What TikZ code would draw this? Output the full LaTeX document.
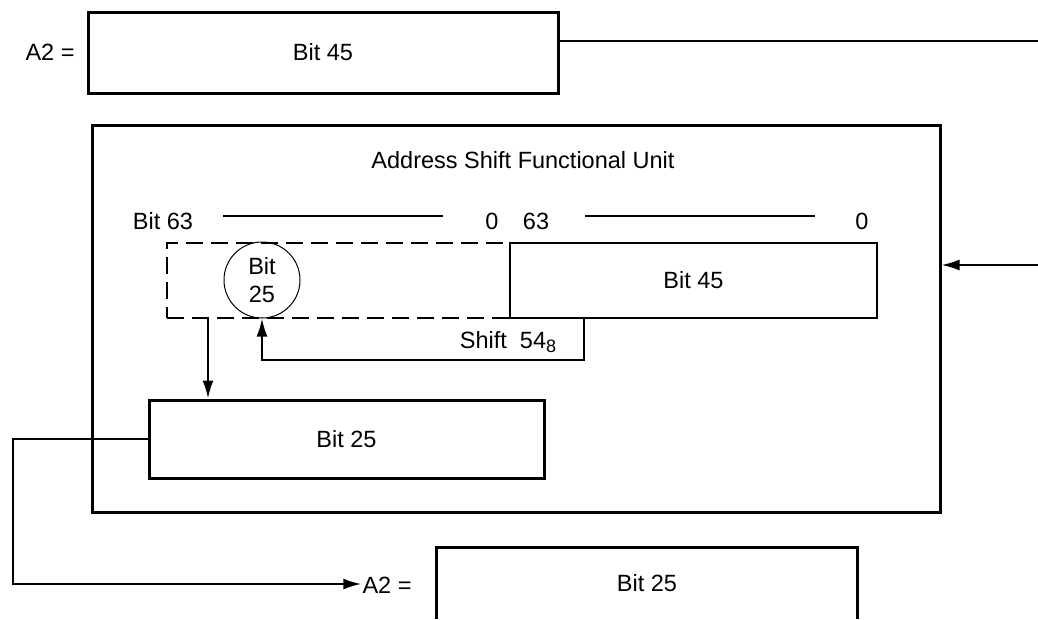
\documentclass[tikz,border=0pt]{standalone}
\usepackage{fontspec}
\setmainfont{Liberation Sans}
\usetikzlibrary{arrows.meta,calc}
\begin{document}
\begin{tikzpicture}[x=1pt,y=-1pt,
  every node/.style={font=\fontsize{23.5}{28}\selectfont, inner sep=1pt},
  thickbox/.style={draw, line width=3pt, rectangle, inner sep=0pt},
  thinbox/.style={draw, line width=2pt, rectangle, inner sep=0pt},
  dashbox/.style={draw, line width=2pt, dash pattern=on 17pt off 8pt, rectangle, inner sep=0pt},
  conn/.style={line width=2pt},
  arr/.style={line width=2pt, -{Latex[length=18pt,width=11pt]}},
  lbl/.style={inner sep=1pt}
]
\useasboundingbox (0,0) rectangle (1038,619);
% top
\node[lbl] (a2top) at (50,52) {A2 =};
\node[thickbox, minimum width=470pt, minimum height=81pt] (top) at (323,52.5) {Bit 45};
\coordinate (r1) at (1038,41);
\draw[conn] (top.east |- r1) -- (r1);
% functional unit
\node[thickbox, minimum width=848pt, minimum height=387pt] (big) at (516,318.5) {};
\node[lbl] (title) at (523,160) {Address Shift Functional Unit};
\coordinate (r2) at (1038,265);
\draw[arr] (r2) -- (big.east |- r2);
% bit labels
\node[lbl] (b63) at (163,221) {Bit 63};
\node[lbl] (z1) at (492,221) {0};
\node[lbl] (s63) at (536,221) {63};
\node[lbl] (z2) at (862,221) {0};
\coordinate (l1a) at (223,216); \coordinate (l1b) at (443,216);
\coordinate (l2a) at (585,216); \coordinate (l2b) at (815,216);
\draw[conn] (l1a) -- (l1b);
\draw[conn] (l2a) -- (l2b);
% registers
\node[dashbox, minimum width=343pt, minimum height=75pt] (dash) at (338.5,280.5) {};
\node[thinbox, minimum width=367pt, minimum height=75pt] (solid) at (693.5,280.5) {Bit 45};
\node[draw, circle, line width=1pt, minimum size=76pt, inner sep=0pt, align=center,
      font=\fontsize{23.5}{28}\selectfont] (circ) at (262,280) {Bit\\25};
% shift path
\coordinate (sx) at (584,360);
\draw[arr] (solid.south -| sx) -- (sx) -| (circ.south);
\node[lbl] (shift) at (508,342) {Shift\ \ 54\raisebox{-0.35ex}{\fontsize{18}{20}\selectfont 8}};
% down arrow
\node[thickbox, minimum width=395pt, minimum height=78pt] (b25) at (346.5,439) {Bit 25};
\coordinate (dx) at (208,0);
\draw[arr] (dash.south -| dx) -- (b25.north -| dx);
% output
\node[lbl] (a2bot) at (387,585) {A2 =};
\coordinate (c1) at (13,439);
\coordinate (c2) at (13,584);
\draw[arr] (b25.west) -- (c1) -- (c2) -- (c2 -| a2bot.west);
\node[minimum width=420pt, minimum height=71pt, inner sep=0pt] (bb) at (647,583.5) {Bit 25};
\draw[line width=3pt] (bb.south west) -- (bb.north west) -- (bb.north east) -- (bb.south east);
\end{tikzpicture}
\end{document}
